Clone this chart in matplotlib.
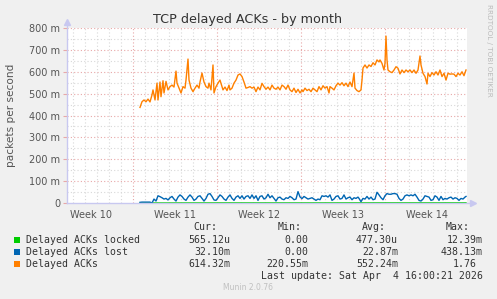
import matplotlib
matplotlib.use("Agg")
import matplotlib.pyplot as plt
from matplotlib.ticker import FixedLocator

W, H = 497, 299

# ---- data (time in hours from left edge of the graph, values in milli-packets/s) ----
acks_hours = [146,150,154,158,162,166,170,172,176,180,182,186,188,192,194,198,202,206,210,214,
              218,220,224,228,232,236,238,242,244,248,252,256,260,264,266,270,274,278,282,284,
              288,292,294,298,302,306,308,312,316,320,324,326,330,334,338,342,346,350,354,358,
              362,366,370,374,378,382,386,390,394,398,402,406,410,414,418,422,426,430,434,438,
              442,446,450,454,458,462,466,470,472,476,480,484,488,492,496,500,504,508,512,516,
              520,524,526,530,534,538,542,546,550,554,558,562,566,570,574,576,580,584,588,590,
              592,596,600,604,608,612,616,620,624,626,630,634,636,638,640,642,646,650,654,658,
              662,666,670,674,678,682,686,690,694,698,702,706,708,712,716,720,722,726,730,734,
              738,742,746,750,754,758,762,766,770,774,778,782,786,790,794,798]
acks_vals = [437,463,471,463,475,462,494,517,471,548,471,553,486,559,503,556,517,532,539,530,
             603,548,525,503,532,525,562,658,562,525,509,525,539,525,553,594,553,532,525,548,
             517,631,503,532,548,562,547,517,530,514,539,517,525,548,562,585,590,578,553,525,
             528,532,525,530,509,530,517,547,532,520,530,517,539,525,520,530,517,539,532,520,
             539,517,509,525,505,520,503,517,509,525,514,520,509,525,517,509,532,517,536,525,
             532,503,532,525,517,536,548,539,550,536,548,532,553,532,594,525,514,509,517,562,
             617,631,617,631,624,641,631,654,645,654,638,608,639,763,654,608,600,596,608,623,
             616,590,608,596,608,600,608,596,608,593,608,672,631,593,578,544,593,578,596,585,
             600,585,608,578,593,562,593,589,590,589,578,593,585,600,582,608]

lost_hours = [146,150,158,166,170,174,178,182,186,190,194,198,202,206,210,214,218,222,226,230,
              234,238,242,246,250,254,258,262,266,270,274,278,282,286,290,294,298,302,306,310,
              314,318,322,326,330,334,338,342,346,350,354,358,362,366,370,374,378,382,386,390,
              394,398,402,406,410,414,418,422,426,430,434,438,442,446,450,454,458,462,466,470,
              474,478,482,486,490,494,498,502,506,510,514,518,522,526,530,534,538,542,546,550,
              554,558,562,566,570,574,578,582,584,588,592,596,600,604,608,612,616,620,624,628,
              632,636,640,644,648,652,656,660,664,668,672,676,680,684,688,692,696,700,704,708,
              712,716,720,724,728,732,736,740,744,748,752,756,760,764,768,772,776,780,784,788,
              792,796,798]
lost_vals = [3,4,4,4,0,18,9,33,29,24,18,21,14,24,30,18,9,27,37,30,
             18,12,27,37,27,12,18,30,33,21,9,21,40,43,30,14,12,24,37,30,
             18,12,27,37,21,12,27,33,21,33,18,30,33,21,37,21,33,12,30,33,
             18,24,40,24,33,21,9,24,27,18,15,24,21,30,24,15,18,52,28,20,
             30,24,18,21,24,18,12,18,15,33,30,33,27,37,12,18,30,33,18,21,
             37,18,24,27,15,24,21,27,21,6,21,18,30,18,27,15,18,49,37,24,
             15,33,43,40,40,43,43,40,21,12,18,33,37,33,37,33,40,27,12,9,
             18,33,30,27,12,15,33,27,12,30,15,21,18,24,27,18,24,21,12,21,
             18,27,30]

locked_hours = [146, 300, 466, 634, 798]
locked_vals = [0.0, 0.5, 0.4, 0.6, 0.565]

week_hours = [132, 300, 468, 636]          # week boundaries
week_label_hours = [49, 217, 385, 553, 721]
week_labels = ["Week 10", "Week 11", "Week 12", "Week 13", "Week 14"]
x_span = 800

series_names = ["Delayed ACKs locked", "Delayed ACKs lost", "Delayed ACKs"]
series_colors = ["#00CC00", "#0066B3", "#FF8000"]
cur_vals = ["565.12u", "32.10m", "614.32m"]
min_vals = ["0.00", "0.00", "220.55m"]
avg_vals = ["477.30u", "22.87m", "552.24m"]
max_vals = ["12.39m", "438.13m", "1.76"]

# ---- figure ----
BG = "#F0F0F0"
fig = plt.figure(figsize=(W / 100, H / 100), dpi=100, facecolor=BG)

def fx(x):
    return x / W

def fy(y):
    return 1 - y / H

ax_l, ax_r, ax_t, ax_b = 67, 467, 28, 203
ax = fig.add_axes([fx(ax_l), fy(ax_b), (ax_r - ax_l) / W, (ax_b - ax_t) / H])
ax.set_facecolor("white")
ax.set_xlim(0, x_span)
ax.set_ylim(0, 0.8)

# grid
for h in range(12, x_span, 24):
    if h not in week_hours:
        ax.axvline(h, color="#D8D8D8", lw=0.8, ls=(0, (1, 2)), zorder=1)
for h in week_hours:
    ax.axvline(h, color="#E8A8A8", lw=0.8, ls=(0, (1, 2)), zorder=1)
for i in range(1, 17):
    v = i * 0.05
    col = "#E8A8A8" if i % 2 == 0 else "#D8D8D8"
    ax.axhline(v, color=col, lw=0.8, ls=(0, (1, 2)), zorder=1)

# series
ax.plot(locked_hours, [v / 1000 for v in locked_vals], color=series_colors[0], lw=1.0, zorder=3)
ax.plot(lost_hours, [v / 1000 for v in lost_vals], color=series_colors[1], lw=1.0, zorder=4)
ax.plot(acks_hours, [v / 1000 for v in acks_vals], color=series_colors[2], lw=1.0, zorder=5)

# axes frame
for s in ax.spines.values():
    s.set_visible(False)
ax.plot([0, 0], [0, 1.035], transform=ax.transAxes, color="#C8C8F0", lw=1.0, clip_on=False, zorder=6)
ax.plot([0, 1.015], [0, 0], transform=ax.transAxes, color="#C8C8F0", lw=1.0, clip_on=False, zorder=6)
ax.plot([0], [1.035], transform=ax.transAxes, marker="^", ms=4, color="#C8C8F0", clip_on=False, zorder=6)
ax.plot([1.015], [0], transform=ax.transAxes, marker=">", ms=4, color="#C8C8F0", clip_on=False, zorder=6)

# ticks
yt = [i * 0.1 for i in range(9)]
ax.yaxis.set_major_locator(FixedLocator(yt))
ax.set_yticklabels(["0"] + [f"{i*100} m" for i in range(1, 9)])
ax.tick_params(axis="y", length=3, color="#E8A8A8", labelsize=7, labelcolor="#555555", pad=2)
ax.xaxis.set_major_locator(FixedLocator(week_label_hours))
ax.set_xticklabels(week_labels)
ax.tick_params(axis="x", length=0, labelsize=7, labelcolor="#555555", pad=5)

# texts
fig.text(fx(248), fy(19), "TCP delayed ACKs - by month", ha="center", va="center",
         fontsize=9.2, color="#333333")
fig.text(fx(11), fy(115), "packets per second", rotation=90, ha="center", va="center",
         fontsize=7.6, color="#555555")
fig.text(fx(489), fy(4), "RRDTOOL / TOBI OETIKER", rotation=270, ha="center", va="top",
         fontsize=5.2, color="#BBBBBB")

mono = dict(family="DejaVu Sans Mono", fontsize=7.1, color="#333333", va="center")
header_y = 227
for txt, xr in zip(["Cur:", "Min:", "Avg:", "Max:"], [217, 302, 386, 470]):
    fig.text(fx(xr), fy(header_y), txt, ha="right", **mono)
row_y = [240, 252, 264]
for i, name in enumerate(series_names):
    y = row_y[i]
    fig.patches.append(plt.Rectangle((fx(14), fy(y + 3)), 6 / W, 6 / H, transform=fig.transFigure,
                                     facecolor=series_colors[i], edgecolor="none"))
    fig.text(fx(26), fy(y), name, ha="left", **mono)
    fig.text(fx(230), fy(y), cur_vals[i], ha="right", **mono)
    fig.text(fx(308), fy(y), min_vals[i], ha="right", **mono)
    fig.text(fx(398), fy(y), avg_vals[i], ha="right", **mono)
    fig.text(fx(477 if max_vals[i] == "1.76" else 483), fy(y), max_vals[i], ha="right", **mono)
fig.text(fx(483), fy(276), "Last update: Sat Apr  4 16:00:21 2026", ha="right", **mono)
fig.text(fx(248), fy(288), "Munin 2.0.76", ha="center", va="center", fontsize=5.5, color="#C0C0C0")

fig.savefig("out.png", dpi=100, facecolor=BG)
